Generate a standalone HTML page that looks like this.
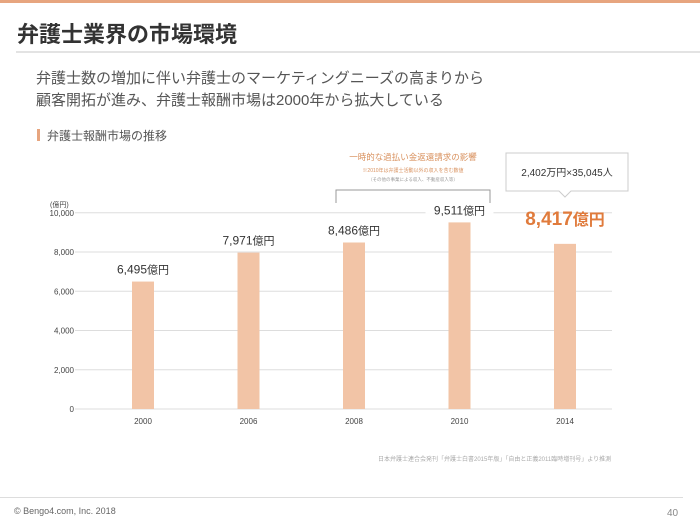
<!DOCTYPE html>
<html><head><meta charset="utf-8"><style>
body{margin:0;width:700px;height:528px;overflow:hidden;background:#fff;font-family:"Liberation Sans","Noto Sans CJK JP",sans-serif;position:relative}
.a{position:absolute;white-space:nowrap}
</style></head><body>
<div class="a" style="left:0;top:0;width:700px;height:3px;background:#e7a57f"></div>
<div class="a" style="left:17px;top:17px;font-size:22px;font-weight:bold;color:#333">弁護士業界の市場環境</div>
<div class="a" style="left:16px;top:51px;width:684px;height:2px;background:#e3e3e3"></div>
<div class="a" style="left:36px;top:68px;font-size:15px;line-height:22px;color:#555">弁護士数の増加に伴い弁護士のマーケティングニーズの高まりから<br>顧客開拓が進み、弁護士報酬市場は2000年から拡大している</div>
<div class="a" style="left:37px;top:129px;width:3px;height:12px;background:#e7a57f"></div>
<div class="a" style="left:47px;top:127px;font-size:12px;color:#555">弁護士報酬市場の推移</div>
<svg class="a" style="left:0;top:0" width="700" height="528"></svg>
<div class="a" style="left:378px;top:454px;font-size:6px;color:#aaa">日本弁護士連合会発刊「弁護士白書2015年版」「自由と正義2011臨時増刊号」より推測</div>
<div class="a" style="left:0;top:497px;width:683px;height:1px;background:#ddd"></div>
<div class="a" style="left:14px;top:506px;font-size:9px;color:#666">© Bengo4.com, Inc. 2018</div>
<div class="a" style="left:667px;top:508px;font-size:10px;color:#888">40</div>
<script>
const categories=["2000","2006","2008","2010","2014"];
const values=[6495,7971,8486,9511,8417];
const valueLabels=["6,495","7,971","8,486","9,511","8,417"];
const yTicks=[0,2000,4000,6000,8000,10000];
const yTickLabels=["0","2,000","4,000","6,000","8,000","10,000"];
const svg=document.querySelector('svg');
const NS='http://www.w3.org/2000/svg';
const y=v=>409-v*0.01962;
const x=i=>143+i*105.5;
function mk(t,a,txt){const e=document.createElementNS(NS,t);for(const k in a)e.setAttribute(k,a[k]);if(txt!=null)e.textContent=txt;svg.appendChild(e);return e;}
yTicks.forEach((t,i)=>{
 const g=mk('line',{x1:75,x2:612,y1:y(t),y2:y(t),stroke:'#ddd','stroke-width':1});
 
 
 const l=mk('text',{x:74,y:y(t)+3,'text-anchor':'end','font-size':8,fill:'#444'},yTickLabels[i]);
 
 
});
const u=mk('text',{x:50,y:207,'font-size':7,fill:'#444'},'(億円)');


categories.forEach((c,i)=>{
 const b=mk('rect',{x:x(i)-11,y:y(values[i]),width:22,height:409-y(values[i]),fill:'#f2c4a6'});
 
 
 const t=mk('text',{x:x(i),y:424,'text-anchor':'middle','font-size':8,fill:'#444'},c);
 
 
 const big=i===4;
 if(i===3){const bg=mk('rect',{x:x(i)-34,y:y(values[i])-23,width:68,height:14,fill:'#fff'});}
 const v=mk('text',{x:x(i),y:big?y(values[i])-19:y(values[i])-8,'text-anchor':'middle','font-size':big?19:12,'font-weight':big?'bold':'normal',fill:big?'#e07b3c':'#333'});
 
 
 const s1=document.createElementNS(NS,'tspan');s1.textContent=valueLabels[i];v.appendChild(s1);
 const s2=document.createElementNS(NS,'tspan');s2.textContent='億円';s2.setAttribute('font-size',big?16:11);v.appendChild(s2);
});
const br=mk('path',{d:'M336 203 V190 H490 V203',fill:'none',stroke:'#999','stroke-width':1});


const n1=mk('text',{x:413,y:160,'text-anchor':'middle','font-size':8.5,fill:'#d9925f'},'一時的な過払い金返還請求の影響');


const n2=mk('text',{x:413,y:172,'text-anchor':'middle','font-size':5,fill:'#d9925f'},'※2010年は弁護士活動以外の収入を含む数値');


const n3=mk('text',{x:413,y:181,'text-anchor':'middle','font-size':4.5,fill:'#999'},'（その他の事業による収入、不動産収入等）');


const cb=mk('path',{d:'M506 153 H628 V191 H571 L565 197 L559 191 H506 Z',fill:'#fff',stroke:'#ccc','stroke-width':1});


const ct=mk('text',{x:567,y:176,'text-anchor':'middle','font-size':10,fill:'#333'},'2,402万円×35,045人');


</script>
</body></html>
